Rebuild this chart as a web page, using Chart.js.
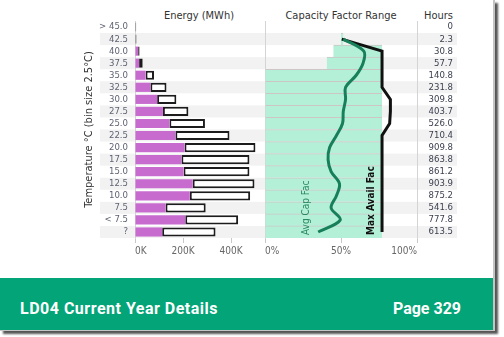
<!DOCTYPE html>
<html>
<head>
<meta charset="utf-8">
<script src="https://cdn.jsdelivr.net/npm/chart.js@4.4.1/dist/chart.umd.min.js"></script>
<style>
  html, body { margin:0; padding:0; background:#fff; width:504px; height:337px; overflow:hidden; }
  #card { position:absolute; left:0; top:0; width:493px; height:330px; background:#fff;
          border-right:2px solid #c4c4c4; border-bottom:1px solid #c4c4c4; box-shadow:3px 3px 2px #555; }
  .ttl { position:absolute; top:9px; font:11px 'Liberation Sans Narrow','DejaVu Sans Condensed',sans-serif; color:#333; white-space:nowrap; }
  #cvE { position:absolute; left:0; top:0; }
  #cvC { position:absolute; left:263px; top:0; }
  #footer { position:absolute; left:0; top:278px; width:493px; height:52px; background:#02a478; color:#fff;
            font:bold 16px Roboto, sans-serif; }
  #footer span { position:absolute; top:5px; line-height:52px; white-space:nowrap; }
</style>
</head>
<body>
<div id="card">
  <div class="ttl" style="left:199px;transform:translateX(-50%)">Energy (MWh)</div>
  <div class="ttl" style="left:341px;transform:translateX(-50%)">Capacity Factor Range</div>
  <div class="ttl" style="right:40px">Hours</div>
  <canvas id="cvE" width="263" height="262"></canvas>
  <canvas id="cvC" width="200" height="262"></canvas>
  <div id="footer">
    <span style="left:20px;letter-spacing:0.5px">LD04 Current Year Details</span>
    <span style="right:32px">Page 329</span>
  </div>
</div>
<script>
const $ = (id) => document.getElementById(id);
const NARROW = "'Liberation Sans Narrow', 'DejaVu Sans Condensed', sans-serif";

// rows, top to bottom
const tempBins = ['> 45.0','42.5','40.0','37.5','35.0','32.5','30.0','27.5','25.0','22.5','20.0','17.5','15.0','12.5','10.0','7.5','< 7.5','?'];

// energy (MWh)
const energyActual = [0, 0, 13000, 17000, 44000, 64000, 92000, 116000, 143000, 168000, 206000, 193000, 202000, 240000, 228000, 127000, 209000, 113000];
const energyTotal  = [5000, 6000, 19000, 32000, 79000, 131000, 172000, 222000, 291000, 393000, 501000, 476000, 476000, 497000, 479000, 294000, 429000, 335000];
const energyTicks  = [0, 200000, 400000];
const ENERGY_MAX = 520000;

// capacity factor (%)
const capLow   = [null, 50, 45, 40.7, 0, 0, 0, 0, 0, 0, 0, 0, 0, 0, 0, 0, 0, 0];
const capHigh  = [null, 51.5, 77, 77, 77, 77, 77, 77, 77, 77, 77, 77, 77, 77, 77, 77, 77, 77];
const avgCap   = [null, 51.5, 65, 64.5, 60, 53, 53, 51.5, 51, 47, 42.5, 41.5, 43.5, 49, 47, 43.5, 49.5, 35];
const maxAvail = [null, 50.5, 77, 77, 77, 77, 82.5, 82.5, 82, 77, 77, 77, 77, 77, 77, 77, 77, 77];
const capTicks = [0, 50, 100];

const hours = [0, 2.3, 30.8, 57.7, 140.8, 231.8, 309.8, 403.7, 526.0, 710.4, 909.8, 863.8, 861.2, 903.9, 875.2, 541.6, 777.8, 613.5];

const BAND = '#f2f2f2';

// alternating row shading, drawn first
function bandsPlugin(x0, x1){
    return {
        id: 'bands',
        beforeDraw(chart){
            const ys = chart.scales.y, a = chart.chartArea, ctx = chart.ctx;
            const h = (a.bottom - a.top) / tempBins.length;
            ctx.save();
            ctx.fillStyle = BAND;
            tempBins.forEach((_, i) => {
                if (i % 2 === 1) {
                    const yc = ys.getPixelForValue(i);
                    ctx.fillRect(x0, yc - h/2, x1 - x0, h);
                }
            });
            ctx.restore();
        }
    };
}

const tickGrid = (ticks) => (c) => (c.tick && ticks.includes(c.tick.value)) ? '#c8c8c8' : 'rgba(0,0,0,0)';

/* ================= ENERGY ================= */
new Chart($("cvE"), {
    type: 'bar',
    data: {
        labels: tempBins,
        datasets: [
            { data: energyActual, backgroundColor: '#c76bcf', borderWidth: 0,
              grouped: false, order: 1, barPercentage: 0.76, categoryPercentage: 1 },
            { data: energyActual.map((a, i) => [a, energyTotal[i]]), backgroundColor: '#fff',
              borderColor: '#1c1c1c', borderWidth: 2, borderSkipped: false,
              grouped: false, order: 2, barPercentage: 0.76, categoryPercentage: 1 }
        ]
    },
    options: {
        indexAxis: 'y', responsive: false, animation: false,
        layout: { padding: { top: 21, left: 79, right: 3, bottom: 0 } },
        plugins: { legend: { display: false }, tooltip: { enabled: false } },
        scales: {
            x: {
                min: 0, max: ENERGY_MAX,
                afterBuildTicks: s => { s.ticks = [...energyTicks, ENERGY_MAX].map(v => ({ value: v })); },
                afterFit: s => { s.height = 24; },
                border: { display: false },
                grid: { drawOnChartArea: false, drawTicks: true, tickLength: 5, color: tickGrid(energyTicks) },
                ticks: { align: 'inner', padding: 2, maxRotation: 0, autoSkip: false,
                         color: '#666', font: { family: NARROW, size: 10 },
                         callback: v => energyTicks.includes(v) ? (v / 1000) + 'K' : '' }
            },
            y: {
                afterFit: s => { s.width = 56; },
                grid: { display: false, drawTicks: false },
                border: { display: true, color: '#d4d4d4' },
                ticks: { padding: 7, autoSkip: false, color: '#5f6373', font: { family: NARROW, size: 9.5 } },
                title: { display: true, text: 'Temperature °C (bin size 2.5°C)', color: '#333',
                         font: { family: NARROW, size: 11 }, padding: { top: 4, bottom: 0 } }
            }
        }
    },
    plugins: [bandsPlugin(100, 263)]
});

/* ================= CAPACITY ================= */
const annotations = {
    id: 'annot',
    afterDatasetsDraw(chart){
        const ctx = chart.ctx, xs = chart.scales.x, a = chart.chartArea;
        const put = (txt, v, color, weight) => {
            ctx.save();
            ctx.translate(xs.getPixelForValue(v), a.bottom - 3);
            ctx.rotate(-Math.PI / 2);
            ctx.textAlign = 'left';
            ctx.textBaseline = 'middle';
            ctx.fillStyle = color;
            ctx.font = `${weight} 10px ${NARROW}`;
            ctx.fillText(txt, 0, 0);
            ctx.restore();
        };
        put('Avg Cap Fac', 27.3, '#2a8a62', 'normal');
        put('Max Avail Fac', 70, '#111', 'bold');
    }
};

new Chart($("cvC"), {
    type: 'bar',
    data: {
        labels: tempBins,
        datasets: [
            { type: 'line', indexAxis: 'y', data: avgCap, borderColor: '#17805b', borderWidth: 3,
              pointRadius: 0, tension: 0.35, order: 1 },
            { type: 'line', indexAxis: 'y', data: maxAvail, borderColor: '#111', borderWidth: 3,
              pointRadius: 0, tension: 0, order: 2 },
            { data: capLow.map((l, i) => l == null ? null : [l, capHigh[i]]),
              backgroundColor: '#b4efd8', borderColor: '#cdc6c6',
              borderWidth: { top: 1, bottom: 0, left: 0, right: 0 }, borderSkipped: false,
              barPercentage: 1, categoryPercentage: 1, order: 3 }
        ]
    },
    options: {
        indexAxis: 'y', responsive: false, animation: false,
        layout: { padding: { top: 21, left: 0, right: 10, bottom: 0 } },
        plugins: { legend: { display: false }, tooltip: { enabled: false } },
        scales: {
            x: {
                min: 0, max: 100,
                afterBuildTicks: s => { s.ticks = capTicks.map(v => ({ value: v })); },
                afterFit: s => { s.height = 24; },
                border: { display: false },
                grid: { drawOnChartArea: false, drawTicks: true, tickLength: 5, color: tickGrid(capTicks) },
                ticks: { align: 'inner', padding: 2, maxRotation: 0, autoSkip: false,
                         color: '#666', font: { family: NARROW, size: 10 },
                         callback: v => v + '%' }
            },
            y: {
                afterFit: s => { s.width = 0; },
                grid: { display: false, drawTicks: false },
                border: { display: true, color: '#d4d4d4' },
                ticks: { display: false }
            },
            yH: {
                type: 'category', position: 'right', offset: true,
                labels: hours.map(h => h === 0 ? '0' : h.toFixed(1)),
                afterFit: s => { s.width = 36; },
                grid: { display: false, drawTicks: false },
                border: { display: true, color: '#d4d4d4' },
                ticks: { crossAlign: 'far', padding: 0, autoSkip: false, color: '#3d4050',
                         font: { family: NARROW, size: 9.5 } }
            }
        }
    },
    plugins: [bandsPlugin(0, 194), annotations]
});
</script>
</body>
</html>
